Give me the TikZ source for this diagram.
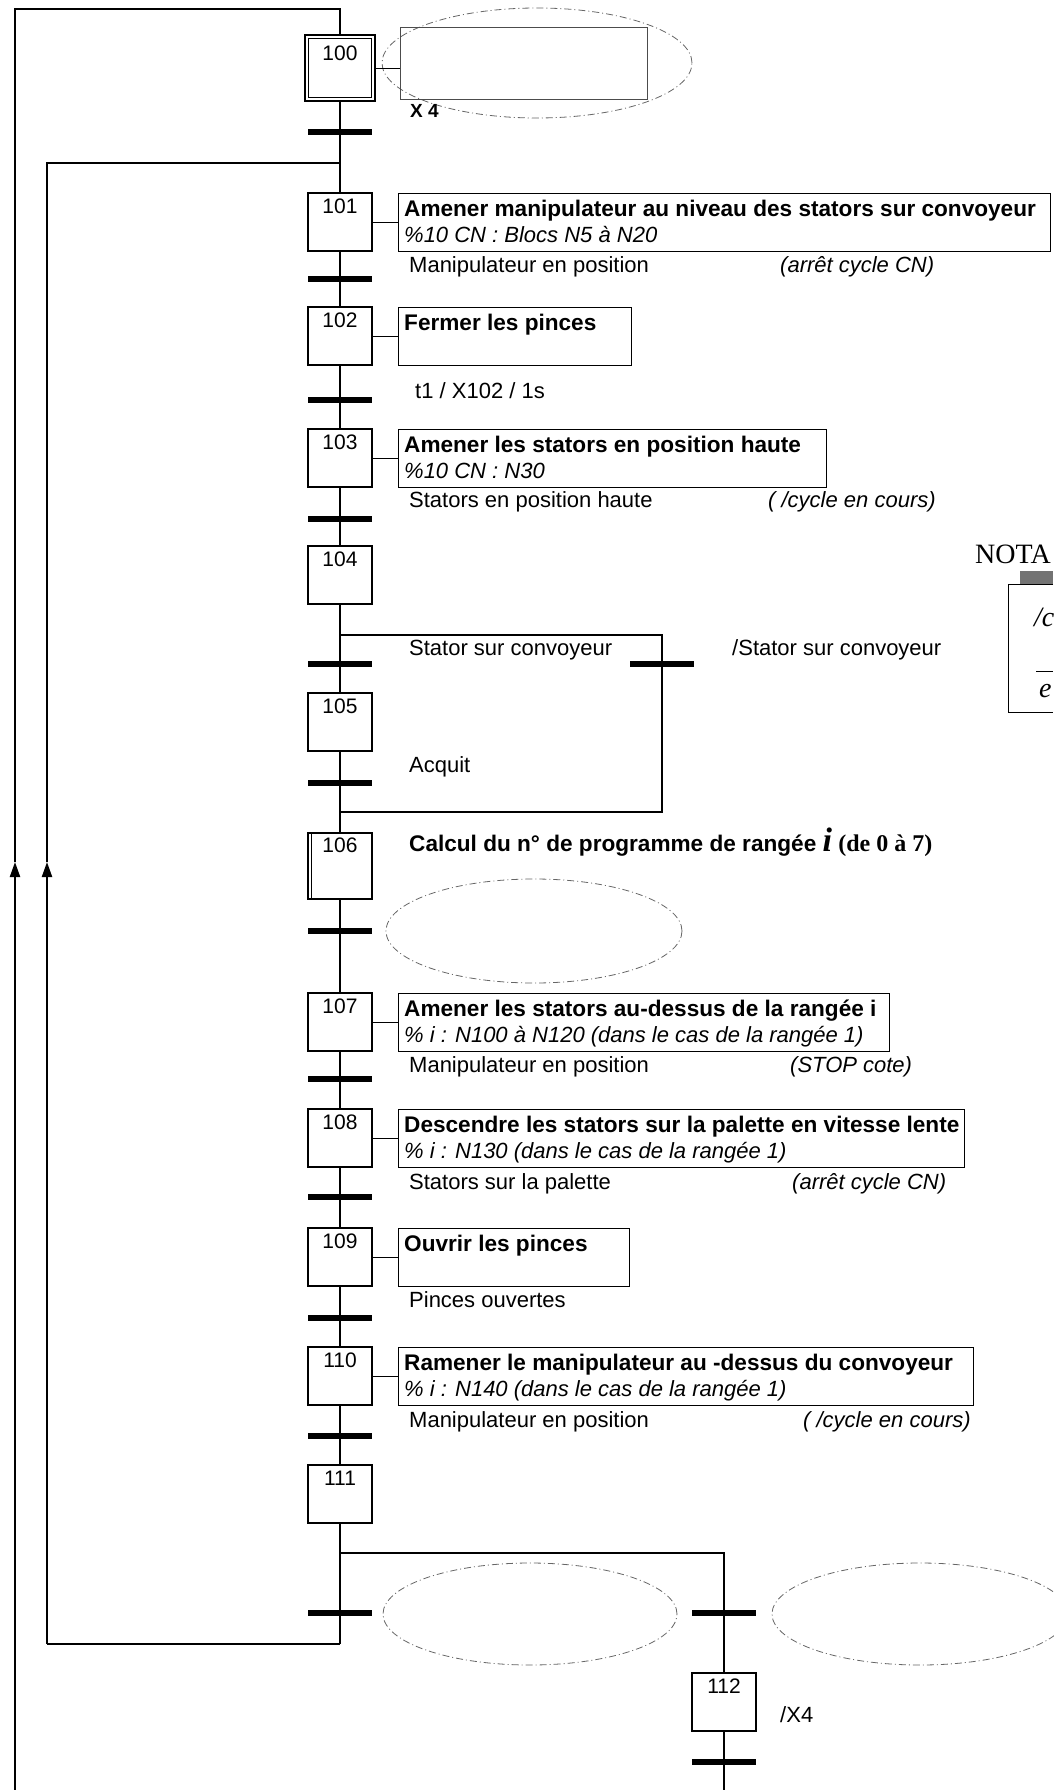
\documentclass[tikz,border=0pt]{standalone}
\usepackage{fontspec}
\setmainfont{Liberation Sans}
\newfontfamily\nserif{Liberation Serif}
\usetikzlibrary{arrows.meta,shapes.geometric}
\newcommand\regf{\fontsize{22}{26}\selectfont}
\newcommand\boldf{\fontsize{22.6}{26}\selectfont\bfseries}
\newcommand\itf{\fontsize{22}{26}\selectfont\itshape}
\newcommand\numf{\fontsize{21}{24}\selectfont}
\tikzset{
  flow/.style={line width=1.5pt},
  loopline/.style={line width=2.2pt},
  stepbox/.style={draw, line width=1.5pt, minimum width=64pt, minimum height=58pt, inner sep=0pt},
  transbar/.style={fill=black, minimum width=64pt, minimum height=5.5pt, inner sep=0pt},
  actbox/.style={draw, line width=1.3pt, inner sep=0pt, anchor=north west, minimum height=58pt},
  txt/.style={inner sep=0pt, anchor=base west},
  numtxt/.style={inner sep=0pt, anchor=base, font=\numf},
  halo/.style={draw=black!60, line width=0.8pt, dash pattern=on 7pt off 3pt on 1pt off 3pt, ellipse, inner sep=0pt},
  link/.style={line width=0.8pt},
  upar/.style={-{Triangle[width=10pt,length=15pt]}},
}
\newcommand\gstep[3]{%
  \node[stepbox] (s#1) at (#2,#3) {};
  \node[numtxt] (n#1) at ([yshift=-21pt]s#1.north) {#1};
}
\begin{document}
\begin{tikzpicture}[x=1pt,y=-1pt]
\useasboundingbox (0,0) rectangle (1053,1790);

% ---------- halos
\node[halo, minimum width=310pt, minimum height=110pt] (h100) at (537,63) {};
\node[halo, minimum width=296pt, minimum height=104pt] (h106) at (534,931) {};
\node[halo, minimum width=294pt, minimum height=102pt] (h111l) at (530,1614) {};
\node[halo, minimum width=296pt, minimum height=102pt] (h111r) at (920,1614) {};

% ---------- steps
\node[stepbox, minimum width=70pt, minimum height=66pt] (s100) at (340,68) {};
\draw[line width=1.2pt] ([shift={(4pt,4pt)}]s100.south west) rectangle ([shift={(-4pt,-4pt)}]s100.north east);
\node[numtxt] (n100) at ([yshift=-26pt]s100.north) {100};
\gstep{101}{340}{222}
\gstep{102}{340}{336}
\gstep{103}{340}{458}
\gstep{104}{340}{575}
\gstep{105}{340}{722}
\node[stepbox, minimum height=66pt] (s106) at (340,866) {};
\node[numtxt] (n106) at ([yshift=-20pt]s106.north) {106};
\draw[line width=1.2pt] ([xshift=4pt]s106.north west) -- ([xshift=4pt]s106.south west);
\gstep{107}{340}{1022}
\gstep{108}{340}{1138}
\gstep{109}{340}{1257}
\gstep{110}{340}{1376}
\gstep{111}{340}{1494}
\gstep{112}{724}{1702}

% ---------- junction coordinates
\coordinate (oB) at (15,1790);
\coordinate (oA) at (15,862);
\coordinate (oT) at (15,9);
\coordinate (oR) at (340,9);
\coordinate (iJoin) at (340,163);
\coordinate (iTop) at (47,163);
\coordinate (iA) at (47,862);
\coordinate (iL2) at (47,1644);
\coordinate (iL1) at (340,1644);
\coordinate (b104a) at (340,635);
\coordinate (b104b) at (662,635);
\coordinate (b104c) at (662,812);
\coordinate (b104d) at (340,812);
\coordinate (j111) at (340,1553);
\coordinate (k111) at (724,1553);
\coordinate (bot112) at (724,1790);

% ---------- flow lines
\draw[flow] (s100) -- (s101);
\draw[flow] (s101) -- (s102);
\draw[flow] (s102) -- (s103);
\draw[flow] (s103) -- (s104);
\draw[flow] (s104) -- (s105);
\draw[flow] (s105) -- (s106);
\draw[flow] (s106) -- (s107);
\draw[flow] (s107) -- (s108);
\draw[flow] (s108) -- (s109);
\draw[flow] (s109) -- (s110);
\draw[flow] (s110) -- (s111);
\draw[flow] (s111) -- (iL1);
\draw[flow] (b104a) -- (b104b) -- (b104c) -- (b104d);
\draw[flow] (j111) -- (k111) -- (s112);
\draw[flow] (s112) -- (bot112);

% ---------- loops
\draw[loopline, upar] (oB) -- (oA);
\draw[loopline] (oA) -- (oT) -- (oR) -- (s100);
\draw[loopline] (iL1) -- (iL2);
\draw[loopline, upar] (iL2) -- (iA);
\draw[loopline] (iA) -- (iTop) -- (iJoin);

% ---------- transitions
\node[transbar] (t100) at (340,132) {};
\node[transbar] (t101) at (340,279) {};
\node[transbar] (t102) at (340,400) {};
\node[transbar] (t103) at (340,519) {};
\node[transbar] (t104) at (340,664) {};
\node[transbar] (t104r) at (662,664) {};
\node[transbar] (t105) at (340,783) {};
\node[transbar] (t106) at (340,931) {};
\node[transbar] (t107) at (340,1079) {};
\node[transbar] (t108) at (340,1197) {};
\node[transbar] (t109) at (340,1318) {};
\node[transbar] (t110) at (340,1436) {};
\node[transbar] (t111l) at (340,1613) {};
\node[transbar] (t111r) at (724,1613) {};
\node[transbar] (t112) at (724,1762) {};

% ---------- actions
\node[actbox, draw=black!70, line width=1pt, minimum width=247pt, minimum height=72pt] (a100) at (400,27) {};
\draw[link] (s100.east) -- (s100.east -| a100.west);
\node[txt, font=\fontsize{19}{22}\selectfont\bfseries] (x4) at (410,118) {X 4};

\node[actbox, minimum width=652pt] (a101) at (398,193) {};
\draw[link] (s101.east) -- (s101.east -| a101.west);
\node[txt, font=\boldf] (a101a) at ([xshift=6pt,yshift=-23pt]a101.north west) {Amener manipulateur au niveau des stators sur convoyeur};
\node[txt, font=\itf] (a101b) at ([xshift=6pt,yshift=-49pt]a101.north west) {\%10 CN : Blocs N5 à N20};
\node[txt, font=\regf] (c101) at (409,272) {Manipulateur en position};
\node[txt, font=\itf] (r101) at (780,272) {(arrêt cycle CN)};

\node[actbox, minimum width=233pt] (a102) at (398,307) {};
\draw[link] (s102.east) -- (s102.east -| a102.west);
\node[txt, font=\boldf] (a102a) at ([xshift=6pt,yshift=-23pt]a102.north west) {Fermer les pinces};
\node[txt, font=\regf] (c102) at (415,398) {t1 / X102 / 1s};

\node[actbox, minimum width=428pt] (a103) at (398,429) {};
\draw[link] (s103.east) -- (s103.east -| a103.west);
\node[txt, font=\boldf] (a103a) at ([xshift=6pt,yshift=-23pt]a103.north west) {Amener les stators en position haute};
\node[txt, font=\itf] (a103b) at ([xshift=6pt,yshift=-49pt]a103.north west) {\%10 CN : N30};
\node[txt, font=\regf] (c103) at (409,507) {Stators en position haute};
\node[txt, font=\itf] (r103) at (768,507) {( /cycle en cours)};

\node[txt, font=\regf] (c104) at (409,655) {Stator sur convoyeur};
\node[txt, font=\regf] (c104r) at (732,655) {/Stator sur convoyeur};
\node[txt, font=\regf] (c105) at (409,772) {Acquit};

\node[txt] (a106a) at (409,851) {\boldf Calcul du n° de programme de rangée {\nserif\fontsize{34}{36}\selectfont\bfseries\itshape i} {\nserif\fontsize{24}{26}\selectfont\bfseries (de 0 à 7)}};

\node[actbox, minimum width=491pt] (a107) at (398,993) {};
\draw[link] (s107.east) -- (s107.east -| a107.west);
\node[txt, font=\boldf] (a107a) at ([xshift=6pt,yshift=-23pt]a107.north west) {Amener les stators au-dessus de la rangée i};
\node[txt, font=\itf] (a107b) at ([xshift=6pt,yshift=-49pt]a107.north west) {\% i : N100 à N120 (dans le cas de la rangée 1)};
\node[txt, font=\regf] (c107) at (409,1072) {Manipulateur en position};
\node[txt, font=\itf] (r107) at (790,1072) {(STOP cote)};

\node[actbox, minimum width=566pt] (a108) at (398,1109) {};
\draw[link] (s108.east) -- (s108.east -| a108.west);
\node[txt, font=\boldf] (a108a) at ([xshift=6pt,yshift=-23pt]a108.north west) {Descendre les stators sur la palette en vitesse lente};
\node[txt, font=\itf] (a108b) at ([xshift=6pt,yshift=-49pt]a108.north west) {\% i : N130 (dans le cas de la rangée 1)};
\node[txt, font=\regf] (c108) at (409,1189) {Stators sur la palette};
\node[txt, font=\itf] (r108) at (792,1189) {(arrêt cycle CN)};

\node[actbox, minimum width=231pt] (a109) at (398,1228) {};
\draw[link] (s109.east) -- (s109.east -| a109.west);
\node[txt, font=\boldf] (a109a) at ([xshift=6pt,yshift=-23pt]a109.north west) {Ouvrir les pinces};
\node[txt, font=\regf] (c109) at (409,1307) {Pinces ouvertes};

\node[actbox, minimum width=575pt] (a110) at (398,1347) {};
\draw[link] (s110.east) -- (s110.east -| a110.west);
\node[txt, font=\boldf] (a110a) at ([xshift=6pt,yshift=-23pt]a110.north west) {Ramener le manipulateur au -dessus du convoyeur};
\node[txt, font=\itf] (a110b) at ([xshift=6pt,yshift=-49pt]a110.north west) {\% i : N140 (dans le cas de la rangée 1)};
\node[txt, font=\regf] (c110) at (409,1427) {Manipulateur en position};
\node[txt, font=\itf] (r110) at (803,1427) {( /cycle en cours)};

\node[txt, font=\regf] (c112) at (780,1722) {/X4};

% ---------- NOTA
\node[txt, font=\nserif\fontsize{28}{30}\selectfont] (nota) at (975,563) {NOTA};
\coordinate (nb1) at (1053,584);
\coordinate (nb2) at (1008,584);
\coordinate (nb3) at (1008,712);
\coordinate (nb4) at (1053,712);
\fill[black!55] (1020,571) rectangle (1053,584);
\draw[line width=1pt] (nb1) -- (nb2) -- (nb3) -- (nb4);
\node[txt, font=\nserif\fontsize{28}{30}\selectfont\itshape] (notac) at (1034,626) {/c};
\coordinate (ov1) at (1036,671);
\coordinate (ov2) at (1053,671);
\draw[line width=1pt] (ov1) -- (ov2);
\node[txt, font=\nserif\fontsize{28}{30}\selectfont\itshape] (notae) at (1039,697) {e};
\end{tikzpicture}
\end{document}
